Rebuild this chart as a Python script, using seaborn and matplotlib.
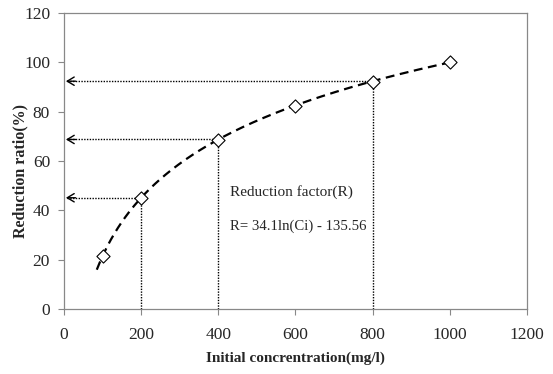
import numpy as np
import pandas as pd
import matplotlib
matplotlib.use("Agg")
import matplotlib.pyplot as plt
import seaborn as sns

# Measured reduction ratios
conc = [100, 200, 400, 600, 800, 1000]
ratio = [21.5, 45.0, 68.5, 82.5, 92.0, 100.0]

# Logarithmic fit R = a*ln(Ci) + b
fit_a = 34.1
fit_b = -135.56
fit_start, fit_end = 85, 1000

# Concentrations read back through the fit
guide_conc = [200, 400, 800]

x_ticks = [0, 200, 400, 600, 800, 1000, 1200]
y_ticks = [0, 20, 40, 60, 80, 100, 120]

sns.set_style("white")
plt.rcParams["font.family"] = ["Liberation Serif", "DejaVu Serif"]

fig = plt.figure(figsize=(5.53, 3.74), dpi=100)
ax = fig.add_axes([0.1157, 0.1738, 0.8373, 0.7912])

fit_x = np.linspace(fit_start, fit_end, 200)
fit_df = pd.DataFrame({"x": fit_x, "y": fit_a * np.log(fit_x) + fit_b})
sns.lineplot(data=fit_df, x="x", y="y", ax=ax, color="black",
             linestyle=(0, (4, 2.5)), linewidth=1.6, zorder=3)

# Dotted guide lines from the fit to both axes
for c in guide_conc:
    r = fit_a * np.log(c) + fit_b
    ax.plot([c, c], [0, r], color="black", linestyle=(0, (1, 1)), linewidth=1.0, zorder=2)
    ax.plot([8, c], [r, r], color="black", linestyle=(0, (1, 1)), linewidth=1.0, zorder=2)
    ax.annotate("", xy=(5, r), xytext=(30, r),
                arrowprops=dict(arrowstyle="->,head_length=0.5,head_width=0.3",
                                color="black", linewidth=1.0, shrinkA=0, shrinkB=0),
                zorder=2)

pts = pd.DataFrame({"conc": conc, "ratio": ratio})
sns.scatterplot(data=pts, x="conc", y="ratio", ax=ax, marker="D", s=45,
                facecolor="white", edgecolor="black", linewidth=0.8, zorder=4)

ax.text(430, 47.3, "Reduction factor(R)", fontsize=11, va="center", ha="left")
ax.text(430, 33.6, "R= 34.1ln(Ci) - 135.56", fontsize=10.6, va="center", ha="left")

ax.set_xlim(0, 1200)
ax.set_ylim(0, 120)
ax.set_xticks(x_ticks)
ax.set_yticks(y_ticks)
ax.tick_params(axis="both", direction="out", length=4, width=0.8, color="#888888",
               labelsize=12.5, bottom=True, left=True)
ax.tick_params(axis="x", pad=9)
ax.tick_params(axis="y", pad=6)
for s in ax.spines.values():
    s.set_color("#888888")
    s.set_linewidth(0.9)

ax.set_xlabel("Initial concrentration(mg/l)", fontsize=11, fontweight="bold", labelpad=6)
ax.set_ylabel("Reduction ratio(%)", fontsize=11.5, fontweight="bold",
              va="center", ha="center")
ax.yaxis.set_label_coords(-0.095, 0.465)

fig.savefig("out.png", dpi=100)
